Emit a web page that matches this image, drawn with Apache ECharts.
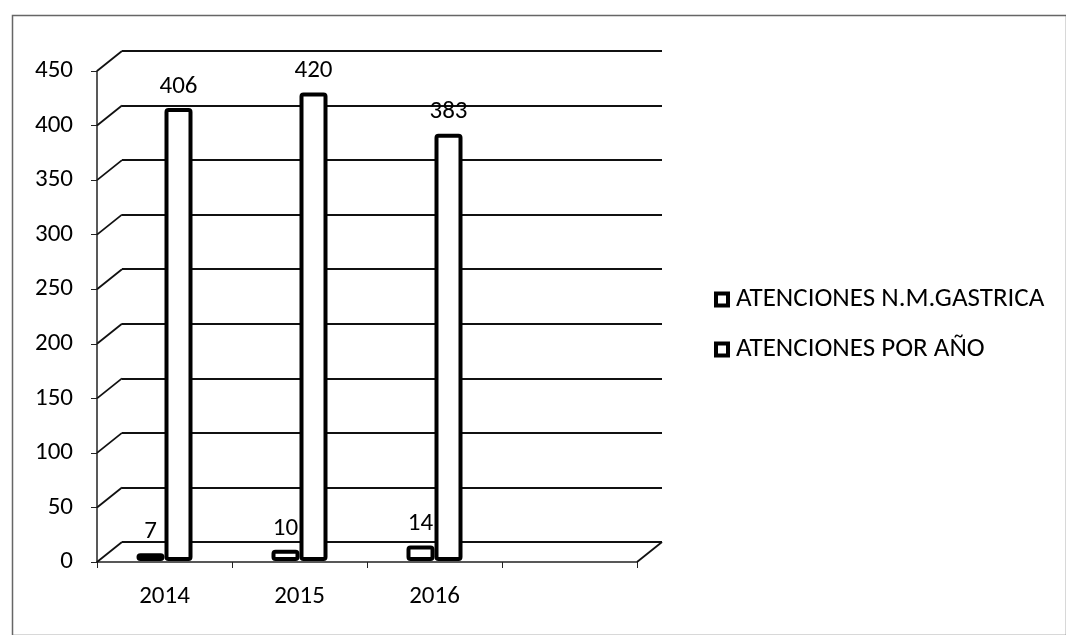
<!DOCTYPE html>
<html>
<head>
<meta charset="utf-8">
<script src="https://cdn.jsdelivr.net/npm/echarts@6/dist/echarts.min.js"></script>
<style>
html,body{margin:0;padding:0;background:#fff;}
#main{width:1066px;height:635px;}
</style>
</head>
<body>
<div id="main"></div>
<script>
// ---- data ----
var categories = ['2014', '2015', '2016', ''];
var seriesNames = ['ATENCIONES N.M.GASTRICA', 'ATENCIONES POR AÑO'];
var gastrica = [7, 10, 14];
var porAnio = [406, 420, 383];
var yTicks = [0, 50, 100, 150, 200, 250, 300, 350, 400, 450];

var FONT = 'Carlito, Lato, "Open Sans", sans-serif';
var DX = 25, DY = -20;

var chart = echarts.init(document.getElementById('main'));

var barStyle = {color: '#fff', borderColor: '#000', borderWidth: 4, borderRadius: 2};
var labelStyle = {show: true, position: 'top', distance: 9, fontSize: 25, color: '#000', fontFamily: FONT};

var option = {
  backgroundColor: '#fff',
  animation: false,
  textStyle: {fontFamily: FONT},
  graphic: [{
    type: 'rect', left: 10, top: 13, z: -10,
    shape: {width: 1054, height: 620},
    style: {fill: 'none', stroke: '#666', lineWidth: 1.5}
  }],
  legend: {
    orient: 'vertical', left: 714, top: 286, itemGap: 23, padding: 0,
    itemWidth: 12, itemHeight: 12, icon: 'rect',
    textStyle: {fontSize: 27, color: '#000', fontFamily: FONT, padding: [0, 0, 0, 3]},
    data: seriesNames.map(function (n) {
      return {name: n, itemStyle: {color: '#fff', borderColor: '#000', borderWidth: 4}};
    })
  },
  grid: [
    // front wall / axes
    {left: 97, right: 429, top: 71, bottom: 73, outerBoundsMode: 'none'},
    // back wall gridlines
    {left: 122, right: 404, top: 51, bottom: 93, outerBoundsMode: 'none'},
    // bars depth
    {left: 97, right: 429, top: 59, bottom: 74, outerBoundsMode: 'none'}
  ],
  xAxis: [
    {type: 'category', gridIndex: 0, data: categories, boundaryGap: true,
     axisLine: {show: true, lineStyle: {color: '#222', width: 1.5}},
     axisTick: {show: true, length: 6, alignWithLabel: false, lineStyle: {color: '#222'}},
     axisLabel: {fontSize: 25, color: '#000', margin: 22, fontFamily: FONT},
     splitLine: {show: false}},
    {type: 'category', gridIndex: 1, data: categories, show: false},
    {type: 'category', gridIndex: 2, data: categories, show: false}
  ],
  yAxis: [
    {type: 'value', gridIndex: 0, min: 0, max: 450, interval: 50,
     axisLine: {show: true, lineStyle: {color: '#222', width: 1.5}},
     axisTick: {show: true, length: 6, lineStyle: {color: '#222'}},
     axisLabel: {fontSize: 25, color: '#000', margin: 24, fontFamily: FONT},
     splitLine: {show: false}},
    {type: 'value', gridIndex: 1, min: 0, max: 450, interval: 50,
     axisLine: {show: false}, axisTick: {show: false}, axisLabel: {show: false},
     splitLine: {show: true, lineStyle: {color: '#111', width: 2}}},
    {type: 'value', gridIndex: 2, min: 0, max: 450, show: false, splitLine: {show: false}}
  ],
  series: [
    {
      type: 'custom', xAxisIndex: 0, yAxisIndex: 0, silent: true, z: 1,
      data: yTicks.map(function (v) { return [0, v]; }),
      encode: {x: 0, y: 1},
      renderItem: function (params, api) {
        var v = api.value(1);
        var cs = params.coordSys;
        var y = api.coord([0, v])[1];
        var x0 = cs.x;
        var children = [{
          type: 'line',
          shape: {x1: x0, y1: y, x2: x0 + DX, y2: y + DY},
          style: {stroke: '#111', lineWidth: 1.8}
        }];
        if (v === 0) {
          var x1 = cs.x + cs.width;
          children.push({
            type: 'line',
            shape: {x1: x1, y1: y, x2: x1 + DX, y2: y + DY},
            style: {stroke: '#111', lineWidth: 1.8}
          });
        }
        return {type: 'group', children: children};
      }
    },
    {
      name: seriesNames[0], type: 'bar', xAxisIndex: 2, yAxisIndex: 2,
      data: gastrica, barWidth: 28, barGap: '0%', z: 3,
      itemStyle: barStyle, label: labelStyle
    },
    {
      name: seriesNames[1], type: 'bar', xAxisIndex: 2, yAxisIndex: 2,
      data: porAnio, barWidth: 28, barGap: '0%', z: 3,
      itemStyle: barStyle, label: labelStyle
    }
  ]
};
chart.setOption(option);
</script>
</body>
</html>
